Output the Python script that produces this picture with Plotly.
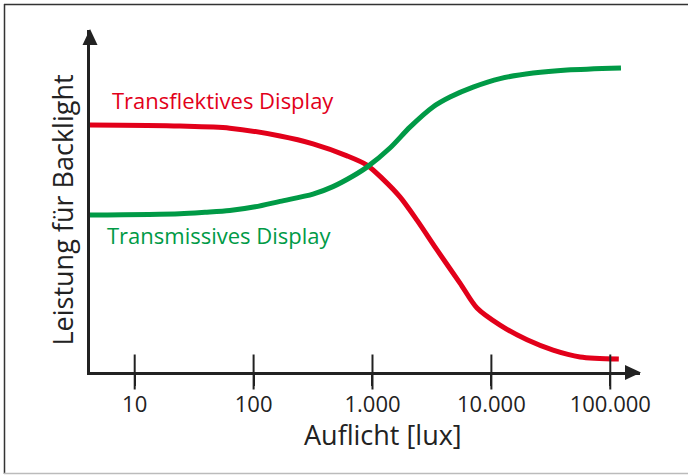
import plotly.graph_objects as go

# ---- data ----
red_lux = [4.2, 24, 63, 167, 316, 610, 898, 1224, 1702, 2366, 3487, 5445, 7568, 11830, 19950, 33040, 55710, 118000]
red_val = [72.2, 71.9, 71.3, 69.0, 66.7, 63.2, 60.5, 56.4, 51.2, 44.4, 35.7, 26.0, 18.7, 13.7, 9.4, 6.4, 4.4, 3.8]

green_lux = [4.2, 24, 39, 63, 103, 167, 316, 465, 686, 898, 1403, 2065, 3226, 4487, 7015, 11830, 22440, 43350, 123000]
green_val = [45.9, 46.3, 46.7, 47.2, 48.3, 49.9, 52.0, 54.2, 57.3, 59.9, 65.5, 71.6, 77.5, 80.4, 83.3, 85.8, 87.4, 88.3, 88.9]

tick_vals = [10, 100, 1000, 10000, 100000]
tick_text = ["10", "100", "1.000", "10.000", "100.000"]

red_label = "Transflektives Display"
green_label = "Transmissives Display"
x_title = "Auflicht [lux]"
y_title = "Leistung für Backlight"

RED = "#e2001a"
GREEN = "#009a46"
AX = "#222222"
FONT = "Open Sans"

fig = go.Figure()
fig.add_trace(go.Scatter(x=red_lux, y=red_val, mode="lines",
                         line=dict(color=RED, width=5, shape="spline", smoothing=0.8),
                         hoverinfo="skip"))
fig.add_trace(go.Scatter(x=green_lux, y=green_val, mode="lines",
                         line=dict(color=GREEN, width=5, shape="spline", smoothing=0.8),
                         hoverinfo="skip"))
# crossing tick marks
fig.add_trace(go.Scatter(x=tick_vals, y=[0] * len(tick_vals), mode="markers",
                         marker=dict(symbol="line-ns", size=25, color=AX,
                                     line=dict(color=AX, width=2)),
                         cliponaxis=False, hoverinfo="skip"))

W, H = 688, 475
L, R, T, B = 90, 48, 30, 103
pw, ph = W - L - R, H - T - B

def px(x):
    return (x - L) / pw

def py(y):
    return (H - B - y) / ph

fig.update_layout(
    width=W, height=H,
    margin=dict(l=L, r=R, t=T, b=B),
    paper_bgcolor="white", plot_bgcolor="white",
    showlegend=False,
    font=dict(family=FONT, color=AX),
    xaxis=dict(type="log", range=[0.624, 5.25], showgrid=False, zeroline=False,
               showline=True, linecolor=AX, linewidth=2.5,
               tickvals=tick_vals, ticktext=tick_text, ticks="outside",
               ticklen=11, tickwidth=2, tickcolor=AX,
               tickfont=dict(family=FONT, size=22, color=AX)),
    yaxis=dict(range=[0, 100], showgrid=False, zeroline=False,
               showline=True, linecolor=AX, linewidth=2.5,
               showticklabels=False, ticks=""),
)

shapes = [
    # arrowheads
    dict(type="path", xref="paper", yref="paper",
         path=f"M {px(90)} {py(29)} L {px(82.5)} {py(45)} L {px(97.5)} {py(45)} Z",
         fillcolor=AX, line=dict(color=AX, width=0)),
    dict(type="path", xref="paper", yref="paper",
         path=f"M {px(641)} {py(372.5)} L {px(625)} {py(365)} L {px(625)} {py(380)} Z",
         fillcolor=AX, line=dict(color=AX, width=0)),
    # frame
    dict(type="line", xref="paper", yref="paper", x0=px(4), x1=px(700), y0=py(4.5), y1=py(4.5),
         line=dict(color="#333333", width=1.5)),
    dict(type="line", xref="paper", yref="paper", x0=px(4.5), x1=px(4.5), y0=py(4), y1=py(474),
         line=dict(color="#333333", width=1.5)),
    dict(type="line", xref="paper", yref="paper", x0=px(4), x1=px(700), y0=py(473.5), y1=py(473.5),
         line=dict(color="#bbbbbb", width=1.5)),
]
fig.update_layout(shapes=shapes)

annotations = [
    dict(text=red_label, x=px(223), y=py(100), xref="paper", yref="paper",
         showarrow=False, font=dict(family=FONT, size=22, color=RED),
         xanchor="center", yanchor="middle"),
    dict(text=green_label, x=px(219.5), y=py(235), xref="paper", yref="paper",
         showarrow=False, font=dict(family=FONT, size=22, color=GREEN),
         xanchor="center", yanchor="middle"),
    dict(text=x_title, x=px(383), y=py(435), xref="paper", yref="paper",
         showarrow=False, font=dict(family=FONT, size=27, color=AX),
         xanchor="center", yanchor="middle"),
    dict(text=y_title, x=px(61.5), y=py(210), xref="paper", yref="paper",
         showarrow=False, textangle=-90, font=dict(family=FONT, size=27, color=AX),
         xanchor="center", yanchor="middle"),
]
fig.update_layout(annotations=annotations)

fig.write_html("out.html",
               config={"displayModeBar": False},
               post_script="document.body.style.margin='0';document.body.style.padding='0';")
